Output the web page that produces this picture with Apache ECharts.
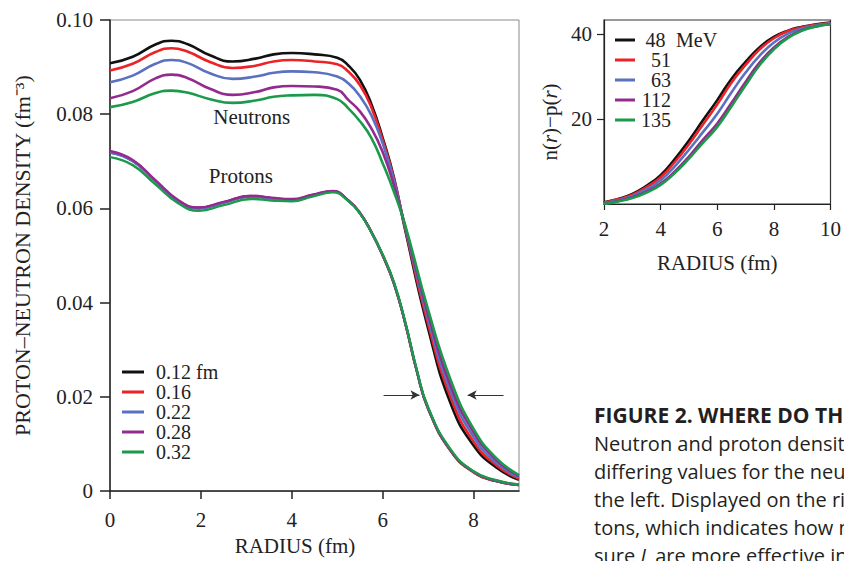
<!DOCTYPE html>
<html>
<head>
<meta charset="utf-8">
<script src="https://cdn.jsdelivr.net/npm/echarts@6/dist/echarts.min.js"></script>
<style>
html,body{margin:0;padding:0;background:#fff;}
#chart{width:844px;height:561px;}
</style>
</head>
<body>
<div id="chart"></div>
<script>
// ---------- data ----------
const neutronRadius = [0,0.5,1.0,1.35,1.7,2.2,2.7,3.2,3.6,4.0,4.5,5.0,5.25,5.5,5.75,6.0,6.25,6.5,7.0,7.5,8.0,8.5,9.0];
const protonRadius  = [0,0.5,1.0,1.5,1.95,2.5,3.1,3.55,4.0,4.45,4.9,5.25,5.5,5.75,6.0,6.25,6.5,6.75,7.0,7.5,8.0,8.5,9.0];
const widthNames = ['0.12 fm','0.16','0.22','0.28','0.32'];
const neutron012 = [0.0908,0.0922,0.0948,0.0956,0.0949,0.0925,0.0912,0.0918,0.0927,0.0930,0.0927,0.0920,0.0903,0.0873,0.0822,0.0750,0.0665,0.0552,0.0345,0.0185,0.0097,0.0050,0.0024];
const neutron016 = [0.0893,0.0907,0.0932,0.0940,0.0933,0.0911,0.0898,0.0903,0.0912,0.0915,0.0912,0.0906,0.0890,0.0862,0.0815,0.0745,0.0662,0.0556,0.0355,0.0198,0.0105,0.0055,0.0026];
const neutron022 = [0.0868,0.0882,0.0907,0.0915,0.0909,0.0887,0.0875,0.0880,0.0888,0.0891,0.0889,0.0880,0.0865,0.0838,0.0798,0.0738,0.0658,0.0558,0.0365,0.0210,0.0115,0.0060,0.0029];
const neutron028 = [0.0834,0.0849,0.0876,0.0884,0.0877,0.0854,0.0841,0.0847,0.0857,0.0860,0.0859,0.0852,0.0830,0.0806,0.0770,0.0720,0.0648,0.0560,0.0375,0.0222,0.0125,0.0066,0.0032];
const neutron032 = [0.0815,0.0826,0.0845,0.0850,0.0846,0.0832,0.0824,0.0829,0.0837,0.0840,0.0841,0.0832,0.0812,0.0785,0.0750,0.0696,0.0635,0.0563,0.0385,0.0235,0.0132,0.0070,0.0034];
const proton012 = [0.0719,0.0701,0.0658,0.0616,0.0601,0.0613,0.0626,0.0622,0.0619,0.0628,0.0636,0.0616,0.0590,0.0550,0.0500,0.0440,0.0355,0.0255,0.0175,0.0085,0.0040,0.0021,0.0013];
const proton016 = [0.0719,0.0701,0.0658,0.0616,0.0601,0.0613,0.0626,0.0622,0.0619,0.0628,0.0636,0.0616,0.0590,0.0550,0.0500,0.0440,0.0355,0.0255,0.0175,0.0085,0.0040,0.0021,0.0013];
const proton022 = [0.0718,0.0700,0.0657,0.0615,0.0600,0.0612,0.0625,0.0621,0.0618,0.0627,0.0636,0.0616,0.0590,0.0550,0.0501,0.0441,0.0356,0.0256,0.0176,0.0086,0.0041,0.0022,0.0013];
const proton028 = [0.0722,0.0703,0.0660,0.0618,0.0602,0.0614,0.0627,0.0623,0.0620,0.0629,0.0637,0.0617,0.0591,0.0551,0.0501,0.0441,0.0356,0.0256,0.0176,0.0086,0.0041,0.0022,0.0014];
const proton032 = [0.0709,0.0692,0.0651,0.0611,0.0595,0.0607,0.0620,0.0617,0.0615,0.0625,0.0634,0.0615,0.0589,0.0550,0.0502,0.0443,0.0358,0.0258,0.0178,0.0088,0.0042,0.0023,0.0014];
const mainXTicks = [0,2,4,6,8];

const insetRadius = [2,2.5,3,3.5,4,4.5,5,5.5,6,6.5,7,7.5,8,8.5,9,9.5,10];
const energyNames = ['48 MeV','51','63','112','135'];
const diff48  = [0.4,1.2,2.4,4.3,6.8,10.6,15.0,19.8,24.5,29.5,33.5,37.0,39.4,40.9,41.8,42.4,42.8];
const diff51  = [0.3,1.1,2.2,4.0,6.3,9.9,14.1,18.8,23.5,28.6,32.8,36.5,39.1,40.8,41.7,42.3,42.7];
const diff63  = [0.2,0.9,1.9,3.5,5.6,8.9,12.8,17.0,21.3,26.3,31.0,35.0,38.1,40.2,41.4,42.1,42.6];
const diff112 = [0.1,0.7,1.6,2.9,4.8,7.7,11.2,15.2,19.0,23.8,28.8,33.4,36.9,39.4,41.0,41.9,42.4];
const diff135 = [0.0,0.6,1.4,2.7,4.5,7.3,10.7,14.5,18.2,23.0,28.0,32.8,36.5,39.2,40.9,41.9,42.4];
const insetYTicks = [20,40];

const colors = ['#111111','#ec2227','#5a70c0','#952a8e','#1a9a4a'];

// ---------- build ----------
const serif = 'Liberation Serif';
function pairs(xs, ys){ return xs.map((x,i)=>[x, ys[i]]); }
const neutrons = [neutron012,neutron016,neutron022,neutron028,neutron032];
const protons = [proton012,proton016,proton022,proton028,proton032];
const diffs = [diff48,diff51,diff63,diff112,diff135];

const series = [];
neutrons.forEach((arr,i)=>{
  const s = {
    type:'line', name: widthNames[i], xAxisIndex:0, yAxisIndex:0,
    data: pairs(neutronRadius, arr), smooth:0.5, showSymbol:false, symbol:'none',
    color: colors[i], lineStyle:{color:colors[i], width:2.6}, z: 3+i, animation:false
  };
  if (i === 4) {
    s.markPoint = {
      symbol:'circle', symbolSize:1, silent:true,
      itemStyle:{color:'rgba(0,0,0,0)'},
      label:{show:true, position:'inside', fontFamily:serif, fontSize:21, color:'#222', formatter:p=>p.name},
      data:[{name:'Neutrons', coord:[3.12,0.0795]},{name:'Protons', coord:[2.88,0.0668]}]
    };
    s.markLine = {
      symbol:['none','arrow'], symbolSize:[7,9], silent:true,
      lineStyle:{color:'#333', width:1.2, type:'solid'}, label:{show:false},
      data:[
        [{coord:[6.02,0.0204]},{coord:[6.81,0.0204]}],
        [{coord:[8.66,0.0204]},{coord:[7.87,0.0204]}]
      ]
    };
  }
  series.push(s);
});
protons.forEach((arr,i)=>{
  series.push({
    type:'line', name: widthNames[i], xAxisIndex:0, yAxisIndex:0,
    data: pairs(protonRadius, arr), smooth:0.5, showSymbol:false, symbol:'none',
    color: colors[i], lineStyle:{color:colors[i], width:2.4}, z: 3+i, animation:false
  });
});
diffs.forEach((arr,i)=>{
  series.push({
    type:'line', name: energyNames[i], xAxisIndex:1, yAxisIndex:1,
    data: pairs(insetRadius, arr), smooth:0.5, showSymbol:false, symbol:'none',
    color: colors[i], lineStyle:{color:colors[i], width:2.6}, z: 3+i, animation:false
  });
});

const axisLineStyle = {color:'#222', width:1.5};

const option = {
  backgroundColor:'#fff',
  animation:false,
  grid:[
    {left:110, top:20, width:409, height:473, show:true, borderColor:'#8a8a8a', borderWidth:1},
    {left:604, top:20, width:233, height:184, show:true, borderColor:'#333', borderWidth:1.2}
  ],
  legend:[
    {
      data: widthNames, orient:'vertical', left:122, top:362, padding:0, icon:'rect',
      itemWidth:22, itemHeight:3, itemGap:0, selectedMode:false,
      textStyle:{fontFamily:serif, fontSize:20, color:'#222', lineHeight:20, padding:[0,0,0,7]}
    },
    {
      data: energyNames, orient:'vertical', left:615, top:30, padding:0, icon:'rect',
      itemWidth:20, itemHeight:3, itemGap:0, selectedMode:false,
      formatter: n => n === '48 MeV' ? '{n|48} MeV' : '{n|' + n + '}',
      textStyle:{fontFamily:serif, fontSize:20, color:'#222', lineHeight:19,
        rich:{n:{width:31, align:'right', fontFamily:serif, fontSize:20, lineHeight:19, color:'#222'}}}
    }
  ],
  xAxis:[
    {
      gridIndex:0, type:'value', min:0, max:9, interval:2,
      name:'RADIUS (fm)', nameLocation:'middle', nameGap:41,
      nameTextStyle:{fontFamily:serif, fontSize:21, color:'#222', padding:[0,39,0,0]},
      axisLine:{show:true, onZero:false, lineStyle:axisLineStyle},
      axisTick:{show:true, inside:false, length:8, lineStyle:axisLineStyle, customValues:mainXTicks},
      axisLabel:{fontFamily:serif, fontSize:21, color:'#222', margin:18, customValues:mainXTicks},
      splitLine:{show:false}
    },
    {
      gridIndex:1, type:'value', min:2, max:10, interval:2,
      name:'RADIUS (fm)', nameLocation:'middle', nameGap:48,
      nameTextStyle:{fontFamily:serif, fontSize:21, color:'#222'},
      axisLine:{show:true, onZero:false, lineStyle:{color:'#222', width:1.2}},
      axisTick:{show:true, inside:false, length:6, lineStyle:{color:'#222', width:1.2}},
      axisLabel:{fontFamily:serif, fontSize:21, color:'#222', margin:14},
      splitLine:{show:false}
    }
  ],
  yAxis:[
    {
      gridIndex:0, type:'value', min:0, max:0.1, interval:0.02,
      name:'PROTON\u2013NEUTRON DENSITY (fm\u207B\u00B3)', nameLocation:'middle', nameGap:77,
      nameTextStyle:{fontFamily:serif, fontSize:22, color:'#222'},
      axisLine:{show:true, onZero:false, lineStyle:axisLineStyle},
      axisTick:{show:true, inside:false, length:10, lineStyle:axisLineStyle},
      axisLabel:{fontFamily:serif, fontSize:21, color:'#222', margin:17,
        formatter: v => v === 0 ? '0' : v.toFixed(2)},
      splitLine:{show:false}
    },
    {
      gridIndex:1, type:'value', min:0, max:43.4,
      name:'n({i|r})\u2212p({i|r})', nameLocation:'middle', nameGap:44,
      nameTextStyle:{fontFamily:serif, fontSize:21, color:'#222', padding:[0,20,0,0],
        rich:{i:{fontStyle:'italic', fontFamily:serif, fontSize:21, color:'#222'}}},
      axisLine:{show:true, onZero:false, lineStyle:{color:'#222', width:1.2}},
      axisTick:{show:true, inside:false, length:7, lineStyle:{color:'#222', width:1.2}, customValues:insetYTicks},
      axisLabel:{fontFamily:serif, fontSize:21, color:'#222', margin:12, customValues:insetYTicks},
      splitLine:{show:false}
    }
  ],
  graphic:[
    {
      type:'text', left:594, top:404, silent:true,
      style:{text:'FIGURE 2. WHERE DO THE', fontFamily:'Open Sans', fontWeight:'bold', fontSize:21, fill:'#231f20'}
    },
    {
      type:'text', left:594, top:429, silent:true,
      style:{
        text:'Neutron and proton density\ndiffering values for the neutron\nthe left. Displayed on the right\ntons, which indicates how m\nsure {i|L} are more effective in',
        fontFamily:'Open Sans', fontSize:20, lineHeight:28, fill:'#231f20',
        rich:{i:{fontStyle:'italic', fontFamily:'Open Sans', fontSize:20, fill:'#231f20', lineHeight:28}}
      }
    }
  ],
  series: series
};

const chart = echarts.init(document.getElementById('chart'), null, {renderer:'svg', width:844, height:561});
chart.setOption(option);
</script>
</body>
</html>
